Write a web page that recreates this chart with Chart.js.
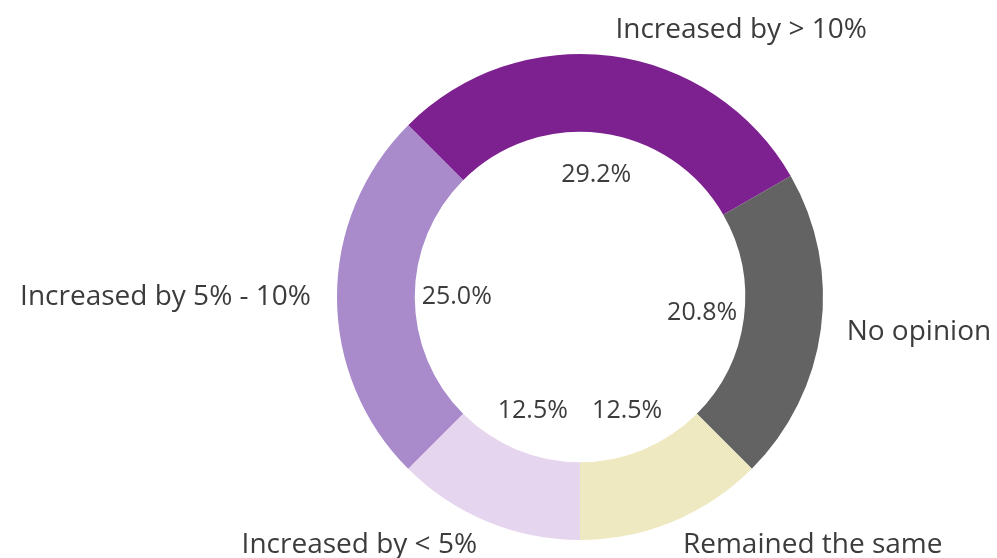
<!DOCTYPE html>
<html>
<head>
<meta charset="utf-8">
<script src="https://cdn.jsdelivr.net/npm/chart.js@4/dist/chart.umd.min.js"></script>
<style>
  html, body { margin: 0; padding: 0; background: #fff; }
  canvas { display: block; }
</style>
</head>
<body>
<canvas id="pieChart" width="997" height="558"></canvas>
<script>
// answer categories, clockwise from the upper left
const categories = ['Increased by > 10%', 'No opinion', 'Remained the same', 'Increased by < 5%', 'Increased by 5% - 10%'];
const shares = [29.2, 20.8, 12.5, 12.5, 25.0];
const sliceColors = ['#7d2190', '#636363', '#eee9c0', '#e6d5ee', '#a98bcb'];

// writes the percentage inside the hole and the category name outside the ring
const sliceLabels = {
  id: 'sliceLabels',
  afterDatasetsDraw(chart) {
    const { ctx } = chart;
    const meta = chart.getDatasetMeta(0);
    ctx.save();
    ctx.fillStyle = '#3c3c3c';
    ctx.textBaseline = 'middle';
    meta.data.forEach((arc, i) => {
      const mid = (arc.startAngle + arc.endAngle) / 2;
      const cos = Math.cos(mid), sin = Math.sin(mid);

      const rIn = arc.innerRadius - 42;
      ctx.font = '25px "Open Sans", sans-serif';
      ctx.textAlign = 'center';
      ctx.fillText(shares[i].toFixed(1) + '%', arc.x + cos * rIn, arc.y + sin * rIn);

      const rOut = arc.outerRadius + 26;
      ctx.font = '28px "Open Sans", sans-serif';
      ctx.textAlign = cos >= 0 ? 'left' : 'right';
      ctx.fillText(categories[i], arc.x + cos * rOut, arc.y + sin * rOut);
    });
    ctx.restore();
  }
};

new Chart(document.getElementById('pieChart').getContext('2d'), {
  type: 'doughnut',
  data: {
    labels: categories,
    datasets: [{
      data: shares,
      backgroundColor: sliceColors,
      borderWidth: 0
    }]
  },
  options: {
    responsive: false,
    animation: false,
    rotation: -45,
    cutout: '68%',
    layout: { padding: { top: 54, bottom: 18, left: 337, right: 174 } },
    plugins: { legend: { display: false }, tooltip: { enabled: false } }
  },
  plugins: [sliceLabels]
});
</script>
</body>
</html>
